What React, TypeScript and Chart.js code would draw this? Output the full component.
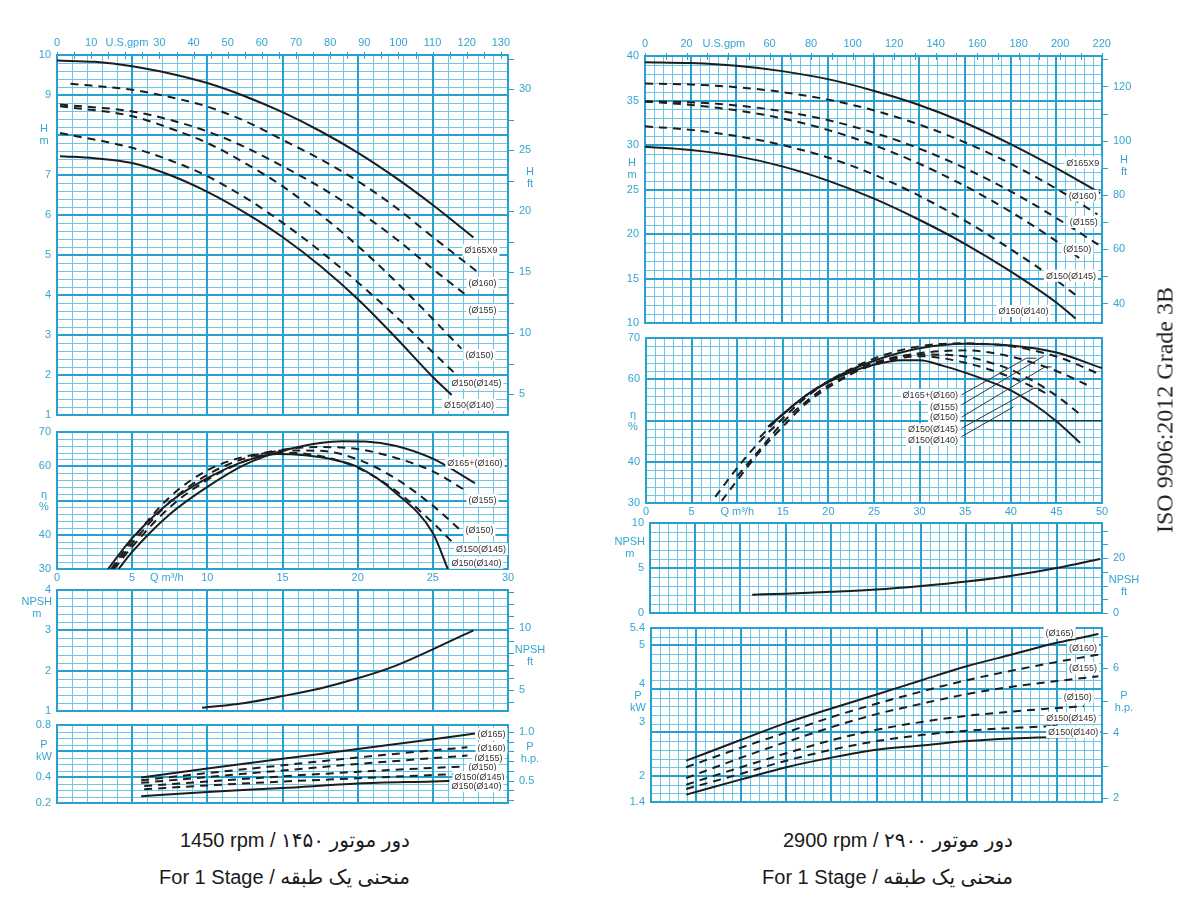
import React, { useEffect, useRef } from "react";
import { Chart, registerables } from "chart.js";
Chart.register(...registerables);

// ---------- unit conversions ----------
const GPM_PER_M3H = 4.4029;
const FT_TO_M = 0.3048;
const HP_TO_KW = 0.7457;

// ================= LEFT : 1450 rpm =================
// Head H (m) vs Q (m3/h)
const L_H_Q165 = [0, 2.5, 5, 7.5, 10, 12.5, 15, 17.5, 20, 22.5, 25, 27.7];
const L_H_165 = [9.86, 9.83, 9.72, 9.54, 9.3, 8.97, 8.57, 8.1, 7.56, 6.94, 6.25, 5.44];
const L_H_Q160 = [0.9, 5, 7.5, 10, 12.5, 15, 17.5, 20, 22.5, 25, 27.9];
const L_H_160 = [9.28, 9.13, 8.95, 8.71, 8.35, 7.88, 7.4, 6.85, 6.2, 5.45, 4.6];
const L_H_Q155 = [0.2, 5, 7.5, 10, 12.5, 15, 17.5, 20, 22.5, 25, 27.1];
const L_H_155 = [8.76, 8.59, 8.38, 8.09, 7.7, 7.22, 6.7, 6.1, 5.42, 4.65, 4.03];
const L_H_Q150 = [0.2, 5, 7.5, 10, 12.5, 15, 17.5, 20, 22.5, 25, 26.9];
const L_H_150 = [8.72, 8.47, 8.17, 7.8, 7.3, 6.72, 6.02, 5.23, 4.35, 3.4, 2.66];
const L_H_Q145 = [0.2, 5, 7.5, 10, 12.5, 15, 17.5, 20, 22.5, 25, 26.5];
const L_H_145 = [8.05, 7.68, 7.37, 6.97, 6.44, 5.81, 5.1, 4.32, 3.48, 2.57, 2.03];
const L_H_Q140 = [0.2, 2.5, 5, 7.5, 10, 12.5, 15, 17.5, 20, 22.5, 25, 26.25];
const L_H_140 = [7.47, 7.42, 7.3, 7.0, 6.58, 6.06, 5.45, 4.73, 3.9, 2.95, 1.95, 1.5];

// Efficiency (%)
const L_E_Q165 = [4.1, 5, 7.5, 10, 12.5, 15, 17.5, 19, 20.5, 22.5, 25, 27.8];
const L_E_165 = [30, 35, 46, 54, 60.5, 64.5, 66.8, 67.3, 67.2, 66, 62.2, 55.1];
const L_E_Q155 = [3.8, 5, 7.5, 10, 12.5, 15, 17.5, 20, 22.5, 25, 27.3];
const L_E_155 = [30, 36.5, 48, 56, 61.5, 64.8, 65.6, 65, 62.5, 58.5, 52.6];
const L_E_Q150 = [3.7, 5, 7.5, 10, 12.5, 15, 17.5, 20, 22.5, 25, 26.8];
const L_E_150 = [30, 37.5, 49.5, 57.5, 62.3, 64.6, 64.5, 62, 56.5, 48.5, 41.5];
const L_E_Q145 = [3.6, 5, 7.5, 10, 12.5, 15, 17.5, 20, 22.5, 25, 26.6];
const L_E_145 = [30, 38.5, 51, 58.8, 62.8, 64, 63, 59.5, 53, 43.5, 36.5];
const L_E_Q140 = [3.4, 5, 7.5, 10, 12.5, 14.6, 16.5, 18.5, 20, 22.6, 25, 26];
const L_E_140 = [30, 39, 49.5, 56.5, 61.5, 63.6, 63.2, 61.8, 59.8, 52, 40.5, 30];

// NPSH (m)
const L_N_Q = [9.65, 12.5, 15, 17.5, 20, 22.5, 25, 27.7];
const L_N = [1.08, 1.2, 1.37, 1.56, 1.81, 2.12, 2.53, 3.0];

// Power (kW)
const L_P_Q165 = [5.6, 10, 15, 20, 25, 27.8];
const L_P_165 = [0.397, 0.465, 0.54, 0.615, 0.69, 0.735];
const L_P_Q160 = [5.6, 10, 15, 20, 25, 27.3];
const L_P_160 = [0.375, 0.43, 0.49, 0.55, 0.605, 0.628];
const L_P_Q155 = [5.6, 10, 15, 20, 25, 27.3];
const L_P_155 = [0.355, 0.4, 0.45, 0.5, 0.545, 0.565];
const L_P_Q150 = [5.8, 10, 15, 20, 25, 26.9];
const L_P_150 = [0.33, 0.365, 0.405, 0.44, 0.47, 0.48];
const L_P_Q145 = [5.8, 10, 15, 20, 25, 26.6];
const L_P_145 = [0.305, 0.335, 0.365, 0.39, 0.415, 0.422];
const L_P_Q140 = [5.6, 10, 15, 20, 25, 26.4];
const L_P_140 = [0.252, 0.285, 0.315, 0.35, 0.366, 0.371];

// ================= RIGHT : 2900 rpm =================
const R_H_Q165 = [0, 5, 10, 15, 20, 25, 30, 35, 40, 45, 49.8];
const R_H_165 = [39.3, 39.2, 38.9, 38.3, 37.4, 36.1, 34.5, 32.5, 30.1, 27.4, 24.6];
const R_H_Q160 = [0, 5, 10, 15, 20, 25, 30, 35, 40, 45, 49.5];
const R_H_160 = [36.9, 36.8, 36.5, 35.95, 35.1, 33.9, 32.3, 30.3, 27.9, 25.1, 22.2];
const R_H_Q155 = [0, 5, 10, 15, 20, 25, 30, 35, 40, 45, 49.6];
const R_H_155 = [34.9, 34.8, 34.45, 33.8, 32.8, 31.4, 29.6, 27.4, 24.8, 21.8, 18.8];
const R_H_Q150 = [0, 5, 10, 15, 20, 25, 30, 35, 40, 45, 47.5];
const R_H_150 = [34.9, 34.5, 33.9, 33.0, 31.7, 30.0, 27.9, 25.4, 22.5, 19.2, 17.3];
const R_H_Q145 = [0, 5, 10, 15, 20, 25, 30, 35, 40, 45, 47.3];
const R_H_145 = [32.1, 31.7, 31.0, 30.0, 28.6, 26.7, 24.3, 21.5, 18.3, 14.8, 13.0];
const R_H_Q140 = [0, 5, 10, 15, 20, 25, 30, 35, 40, 45, 47.1];
const R_H_140 = [29.8, 29.45, 28.75, 27.6, 26.0, 24.0, 21.6, 18.9, 15.8, 12.3, 10.5];

const R_E_Q165 = [13.4, 15, 17.5, 20, 22.5, 25, 30, 35, 40, 45, 50];
const R_E_165 = [48.5, 51.5, 56, 59.5, 62.3, 64.5, 67.5, 68.6, 68.2, 66.5, 62.7];
const R_E_Q160 = [7.6, 10, 12.5, 15, 17.5, 20, 25, 30, 35, 40, 45, 50];
const R_E_160 = [31.5, 38.5, 45, 50.5, 55.5, 59.5, 65, 68, 68.7, 68, 65.5, 61];
const R_E_Q155 = [8.3, 10, 12.5, 15, 17.5, 20, 25, 30, 35, 40, 45, 48.5];
const R_E_155 = [30.5, 35.5, 42.5, 48.5, 54, 58, 63.8, 66.3, 67, 65.5, 62, 58.5];
const R_E_Q150 = [12.5, 15, 17.5, 20, 25, 30, 35, 37.5, 40, 42.5, 45, 47.6];
const R_E_150 = [46, 51.5, 56, 59.5, 64, 66, 65.5, 64.2, 62.3, 59.5, 56, 51.5];
const R_E_Q145 = [10, 12.5, 15, 17.5, 20, 25, 30, 35, 40, 44];
const R_E_145 = [36.5, 43, 49.5, 54.5, 58.5, 63.5, 65.6, 64, 60.5, 56.5];
const R_E_Q140 = [13.4, 15, 17.5, 20, 22.5, 25, 28, 30, 32.5, 35, 37.5, 40, 42.5, 45, 47.6];
const R_E_140 = [48.5, 51.5, 56, 59.3, 61.8, 63.5, 64.6, 64.6, 63.3, 61.6, 59.6, 57.3, 54, 49.8, 44.6];

const R_N_Q = [11.3, 15, 20, 25, 30, 35, 40, 45, 49.8];
const R_N = [2.04, 2.15, 2.35, 2.6, 3.0, 3.5, 4.15, 5.0, 6.0];

const R_P_Q = [3.9, 10, 15, 20, 25, 30, 35, 40, 45];
const R_P_165 = [2.35, 2.83, 3.22, 3.55, 3.87, 4.2, 4.52, 4.79, 5.06, 5.26];
const R_P_160 = [2.2, 2.65, 3.0, 3.35, 3.66, 3.94, 4.2, 4.42, 4.62, 4.79];
const R_P_155 = [1.95, 2.42, 2.78, 3.12, 3.42, 3.66, 3.88, 4.05, 4.18, 4.29];
const R_P_150 = [1.8, 2.2, 2.52, 2.82, 3.06, 3.24, 3.38, 3.48, 3.56, 3.6];
const R_P_145 = [1.7, 2.05, 2.35, 2.6, 2.8, 2.94, 3.04, 3.1, 3.14, 3.15];
const R_P_140 = [1.57, 1.92, 2.2, 2.42, 2.6, 2.7, 2.8, 2.86, 2.89, 2.89];
const R_P_END = [49.6, 49.6, 49.6, 48, 44.5, 46.9];

// tick labels
const L_GPM_LABELS = [0, 10, 30, 40, 50, 60, 70, 80, 90, 100, 110, 120, 130];
const R_GPM_LABELS = [0, 20, 60, 80, 100, 120, 140, 160, 180, 200, 220];
const L_Q_LABELS = [0, 5, 10, 15, 20, 25, 30];
const R_Q_LABELS = [0, 5, 15, 20, 25, 30, 35, 40, 45, 50];

// ---------- styles ----------
const GRID_MINOR = "#70c6e7";
const GRID_MAJOR = "#27a1d2";
const TICK_COLOR = "#35a4d0";
const CURVE_COLOR = "#1d1d1d";
const FONT_TICK = '11px "Liberation Sans", Arial, sans-serif';
const FONT_CURVE = '9px "Liberation Sans", Arial, sans-serif';
const PAD = { left: 60, right: 60, top: 22, bottom: 18 };

type Curve = { q: number[]; v: number[]; dashed?: boolean };
type Lbl = { v: number; t: string[] };
type CLbl = { q: number; v: number; t: string; align?: "left" | "center" | "right" };
type Sec = { factor: number; from: number; to: number; step: number; labels: number[]; fmt?: (n: number) => string; title: string[]; titleAt: number };
type Top = { factor: number; to: number; step: number; labels: number[]; title: string; titleAt: number };
type Spec = {
  left: number; top: number; right: number; bottom: number;
  xMin: number; xMax: number; yMin: number; yMax: number;
  xMinor: number; xMajor: number; yMinor: number; yMajor: number;
  curves: Curve[];
  leftLabels: Lbl[];
  bottomLabels?: Lbl[];
  sec?: Sec;
  topAxis?: Top;
  curveLabels: CLbl[];
  leaders?: number[][][];
};

const lbl = (v: number, ...t: string[]): Lbl => ({ v, t });
const cv = (q: number[], v: number[], dashed = false): Curve => ({ q, v, dashed });
const steps = (min: number, max: number, step: number) => {
  const out: number[] = [];
  const start = Math.ceil(min / step - 1e-9);
  for (let i = start; i * step <= max + 1e-9; i++) out.push(Math.round(i * step * 1e6) / 1e6);
  return out;
};

const makeDecor = (s: Spec) => ({
  id: "decor",
  beforeDatasetsDraw(chart: any) {
    const { ctx, chartArea: a } = chart;
    const xs = chart.scales.x, ys = chart.scales.y;
    ctx.save();
    ctx.fillStyle = "#fff";
    ctx.fillRect(a.left, a.top, a.right - a.left, a.bottom - a.top);
    const vline = (v: number, c: string, w: number) => {
      const p = Math.round(xs.getPixelForValue(v)) + (w === 1 ? 0.5 : 0);
      ctx.strokeStyle = c; ctx.lineWidth = w;
      ctx.beginPath(); ctx.moveTo(p, a.top); ctx.lineTo(p, a.bottom); ctx.stroke();
    };
    const hline = (v: number, c: string, w: number) => {
      const p = Math.round(ys.getPixelForValue(v)) + (w === 1 ? 0.5 : 0);
      ctx.strokeStyle = c; ctx.lineWidth = w;
      ctx.beginPath(); ctx.moveTo(a.left, p); ctx.lineTo(a.right, p); ctx.stroke();
    };
    steps(s.xMin, s.xMax, s.xMinor).forEach((v) => vline(v, GRID_MINOR, 1));
    steps(s.yMin, s.yMax, s.yMinor).forEach((v) => hline(v, GRID_MINOR, 1));
    steps(s.xMin, s.xMax, s.xMajor).forEach((v) => vline(v, GRID_MAJOR, 2));
    steps(s.yMin, s.yMax, s.yMajor).forEach((v) => hline(v, GRID_MAJOR, 2));
    ctx.strokeStyle = GRID_MAJOR; ctx.lineWidth = 2;
    ctx.strokeRect(a.left, a.top, a.right - a.left, a.bottom - a.top);
    ctx.restore();
  },
  afterDatasetsDraw(chart: any) {
    const { ctx } = chart;
    const xs = chart.scales.x, ys = chart.scales.y;
    ctx.save();
    (s.leaders || []).forEach((pts) => {
      ctx.strokeStyle = "#333"; ctx.lineWidth = 1;
      ctx.beginPath();
      pts.forEach(([q, v], i) => {
        const x = xs.getPixelForValue(q), y = ys.getPixelForValue(v);
        if (i === 0) ctx.moveTo(x, y); else ctx.lineTo(x, y);
      });
      ctx.stroke();
    });
    ctx.font = FONT_CURVE; ctx.textBaseline = "middle"; ctx.textAlign = "left";
    s.curveLabels.forEach((c) => {
      const x = xs.getPixelForValue(c.q), y = ys.getPixelForValue(c.v);
      const w = ctx.measureText(c.t).width;
      const al = c.align || "center";
      const x0 = al === "center" ? x - w / 2 : al === "right" ? x - w : x;
      ctx.fillStyle = "#fff"; ctx.fillRect(x0 - 2, y - 6, w + 4, 12);
      ctx.fillStyle = "#333"; ctx.fillText(c.t, x0, y + 0.5);
    });
    ctx.restore();
  },
  afterDraw(chart: any) {
    const { ctx, chartArea: a } = chart;
    const xs = chart.scales.x, ys = chart.scales.y;
    ctx.save();
    ctx.font = FONT_TICK; ctx.fillStyle = TICK_COLOR; ctx.textBaseline = "middle";
    const multi = (lines: string[], x: number, y: number) =>
      lines.forEach((t, k) => ctx.fillText(t, x, y + (k - (lines.length - 1) / 2) * 12));
    s.leftLabels.forEach((l) => {
      const y = ys.getPixelForValue(l.v);
      if (l.t.length > 1) {
        const mw = Math.max(...l.t.map((t) => ctx.measureText(t).width));
        ctx.textAlign = "center";
        multi(l.t, Math.min(a.left - 13, a.left - 5 - mw / 2), y);
      } else { ctx.textAlign = "right"; multi(l.t, a.left - 6, y); }
    });
    (s.bottomLabels || []).forEach((l) => {
      ctx.textAlign = "center";
      ctx.fillText(l.t[0], xs.getPixelForValue(l.v), a.bottom + 9);
    });
    if (s.sec) {
      const sc = s.sec;
      ctx.strokeStyle = GRID_MAJOR; ctx.lineWidth = 1;
      steps(sc.from, sc.to, sc.step).forEach((v) => {
        const y = Math.round(ys.getPixelForValue(v * sc.factor)) + 0.5;
        ctx.beginPath(); ctx.moveTo(a.right, y); ctx.lineTo(a.right + 6, y); ctx.stroke();
      });
      ctx.textAlign = "left";
      sc.labels.forEach((v) => {
        const t = sc.fmt ? sc.fmt(v) : String(v);
        ctx.fillText(t, a.right + 11, ys.getPixelForValue(v * sc.factor));
      });
      ctx.textAlign = "center";
      multi(sc.title, a.right + 22, ys.getPixelForValue(sc.titleAt));
    }
    if (s.topAxis) {
      const tp = s.topAxis;
      ctx.strokeStyle = GRID_MAJOR; ctx.lineWidth = 1;
      steps(0, tp.to, tp.step).forEach((g) => {
        const x = Math.round(xs.getPixelForValue(g / tp.factor)) + 0.5;
        ctx.beginPath(); ctx.moveTo(x, a.top - 3); ctx.lineTo(x, a.top + 4); ctx.stroke();
      });
      ctx.textAlign = "center";
      tp.labels.forEach((g) => ctx.fillText(String(g), xs.getPixelForValue(g / tp.factor), a.top - 12));
      ctx.fillText(tp.title, xs.getPixelForValue(tp.titleAt / tp.factor), a.top - 12);
    }
    ctx.restore();
  },
});

function Panel({ spec }: { spec: Spec }) {
  const ref = useRef<HTMLCanvasElement>(null);
  const w = spec.right - spec.left + PAD.left + PAD.right;
  const h = spec.bottom - spec.top + PAD.top + PAD.bottom;
  useEffect(() => {
    const chart = new Chart(ref.current as HTMLCanvasElement, {
      type: "line",
      data: {
        datasets: spec.curves.map((c) => ({
          data: c.q.map((q, i) => ({ x: q, y: c.v[i] })),
          borderColor: CURVE_COLOR,
          borderWidth: 2,
          borderDash: c.dashed ? [8, 6] : [],
          pointRadius: 0,
          tension: 0.4,
          cubicInterpolationMode: "monotone",
          fill: false,
        })),
      },
      options: {
        animation: false,
        responsive: false,
        devicePixelRatio: 1,
        events: [],
        layout: { padding: PAD },
        scales: {
          x: { type: "linear", min: spec.xMin, max: spec.xMax, display: false },
          y: { type: "linear", min: spec.yMin, max: spec.yMax, display: false },
        },
        plugins: { legend: { display: false }, tooltip: { enabled: false } },
      } as any,
      plugins: [makeDecor(spec)],
    });
    return () => chart.destroy();
  }, [spec]);
  return (
    <canvas
      ref={ref}
      width={w}
      height={h}
      style={{ position: "absolute", left: spec.left - PAD.left, top: spec.top - PAD.top, width: w, height: h }}
    />
  );
}

const zipEnd = (v: number[], end: number) => [...R_P_Q, end].slice(0, v.length);

const hpFmt = (n: number) => (n === 1 ? "1.0" : String(n));

const SPECS: Spec[] = [
  // ---- left head ----
  {
    left: 57, top: 55, right: 508, bottom: 415,
    xMin: 0, xMax: 30, yMin: 1, yMax: 10, xMinor: 1, xMajor: 5, yMinor: 0.2, yMajor: 1,
    curves: [
      cv(L_H_Q165, L_H_165), cv(L_H_Q160, L_H_160, true), cv(L_H_Q155, L_H_155, true),
      cv(L_H_Q150, L_H_150, true), cv(L_H_Q145, L_H_145, true), cv(L_H_Q140, L_H_140),
    ],
    leftLabels: [lbl(10, "10"), lbl(9, "9"), lbl(8, "H", "m"), lbl(7, "7"), lbl(6, "6"), lbl(5, "5"), lbl(4, "4"), lbl(3, "3"), lbl(2, "2"), lbl(1, "1")],
    sec: { factor: FT_TO_M, from: 5, to: 32.5, step: 2.5, labels: [5, 10, 15, 20, 25, 30], title: ["H", "ft"], titleAt: 6.93 },
    topAxis: { factor: GPM_PER_M3H, to: 130, step: 5, labels: L_GPM_LABELS, title: "U.S.gpm", titleAt: 20.5 },
    curveLabels: [
      { q: 28.2, v: 5.12, t: "Ø165X9" }, { q: 28.3, v: 4.3, t: "(Ø160)" }, { q: 28.3, v: 3.62, t: "(Ø155)" },
      { q: 28.1, v: 2.5, t: "(Ø150)" }, { q: 27.9, v: 1.8, t: "Ø150(Ø145)" }, { q: 27.4, v: 1.25, t: "Ø150(Ø140)" },
    ],
  },
  // ---- left efficiency ----
  {
    left: 57, top: 432, right: 508, bottom: 569,
    xMin: 0, xMax: 30, yMin: 30, yMax: 70, xMinor: 1, xMajor: 5, yMinor: 2, yMajor: 10,
    curves: [
      cv(L_E_Q165, L_E_165), cv(L_E_Q155, L_E_155, true), cv(L_E_Q150, L_E_150, true),
      cv(L_E_Q145, L_E_145, true), cv(L_E_Q140, L_E_140),
    ],
    leftLabels: [lbl(70, "70"), lbl(60, "60"), lbl(50, "η", "%"), lbl(40, "40"), lbl(30, "30")],
    bottomLabels: [...L_Q_LABELS.map((v) => lbl(v, String(v))), lbl(7.3, "Q m³/h")],
    curveLabels: [
      { q: 27.8, v: 61, t: "Ø165+(Ø160)" }, { q: 28.3, v: 50.1, t: "(Ø155)" }, { q: 28.1, v: 41.4, t: "(Ø150)" },
      { q: 28.2, v: 35.8, t: "Ø150(Ø145)" }, { q: 27.9, v: 31.8, t: "Ø150(Ø140)" },
    ],
  },
  // ---- left NPSH ----
  {
    left: 57, top: 590, right: 508, bottom: 711,
    xMin: 0, xMax: 30, yMin: 1, yMax: 4, xMinor: 1, xMajor: 5, yMinor: 0.2, yMajor: 1,
    curves: [cv(L_N_Q, L_N)],
    leftLabels: [lbl(4, "4"), lbl(3.55, "NPSH", "m"), lbl(3, "3"), lbl(2, "2"), lbl(1, "1")],
    sec: { factor: FT_TO_M, from: 4, to: 13, step: 1, labels: [5, 10], title: ["NPSH", "ft"], titleAt: 2.36 },
    curveLabels: [],
  },
  // ---- left power ----
  {
    left: 57, top: 725, right: 508, bottom: 803,
    xMin: 0, xMax: 30, yMin: 0.2, yMax: 0.8, xMinor: 1, xMajor: 5, yMinor: 0.05, yMajor: 0.2,
    curves: [
      cv(L_P_Q165, L_P_165), cv(L_P_Q160, L_P_160, true), cv(L_P_Q155, L_P_155, true),
      cv(L_P_Q150, L_P_150, true), cv(L_P_Q145, L_P_145, true), cv(L_P_Q140, L_P_140),
    ],
    leftLabels: [lbl(0.8, "0.8"), lbl(0.6, "P", "kW"), lbl(0.4, "0.4"), lbl(0.2, "0.2")],
    sec: { factor: HP_TO_KW, from: 0.3, to: 1.0, step: 0.1, labels: [0.5, 1], fmt: hpFmt, title: ["P", "h.p."], titleAt: 0.585 },
    curveLabels: [
      { q: 28.9, v: 0.731, t: "(Ø165)" }, { q: 28.9, v: 0.623, t: "(Ø160)" }, { q: 28.7, v: 0.546, t: "(Ø155)" },
      { q: 28.3, v: 0.477, t: "(Ø150)" }, { q: 28.1, v: 0.4, t: "Ø150(Ø145)" }, { q: 27.9, v: 0.331, t: "Ø150(Ø140)" },
    ],
  },
  // ---- right head ----
  {
    left: 645, top: 56, right: 1102, bottom: 323,
    xMin: 0, xMax: 50, yMin: 10, yMax: 40, xMinor: 1, xMajor: 5, yMinor: 1, yMajor: 5,
    curves: [
      cv(R_H_Q165, R_H_165), cv(R_H_Q160, R_H_160, true), cv(R_H_Q155, R_H_155, true),
      cv(R_H_Q150, R_H_150, true), cv(R_H_Q145, R_H_145, true), cv(R_H_Q140, R_H_140),
    ],
    leftLabels: [lbl(40, "40"), lbl(35, "35"), lbl(30, "30"), lbl(27.3, "H", "m"), lbl(25, "25"), lbl(20, "20"), lbl(15, "15"), lbl(10, "10")],
    sec: { factor: FT_TO_M, from: 40, to: 130, step: 10, labels: [40, 60, 80, 100, 120], title: ["H", "ft"], titleAt: 27.6 },
    topAxis: { factor: GPM_PER_M3H, to: 220, step: 10, labels: R_GPM_LABELS, title: "U.S.gpm", titleAt: 38 },
    curveLabels: [
      { q: 47.9, v: 28.0, t: "Ø165X9" }, { q: 47.9, v: 24.3, t: "(Ø160)" }, { q: 48.0, v: 21.35, t: "(Ø155)" },
      { q: 47.3, v: 18.3, t: "(Ø150)" }, { q: 46.6, v: 15.3, t: "Ø150(Ø145)" }, { q: 41.4, v: 11.35, t: "Ø150(Ø140)" },
    ],
  },
  // ---- right efficiency ----
  {
    left: 646, top: 338, right: 1102, bottom: 503,
    xMin: 0, xMax: 50, yMin: 30, yMax: 70, xMinor: 1, xMajor: 5, yMinor: 2, yMajor: 10,
    curves: [
      cv(R_E_Q165, R_E_165), cv(R_E_Q160, R_E_160, true), cv(R_E_Q155, R_E_155, true),
      cv(R_E_Q150, R_E_150, true), cv(R_E_Q145, R_E_145, true), cv(R_E_Q140, R_E_140),
    ],
    leftLabels: [lbl(70, "70"), lbl(60, "60"), lbl(50, "η", "%"), lbl(40, "40"), lbl(30, "30")],
    bottomLabels: [...R_Q_LABELS.map((v) => lbl(v, String(v))), lbl(10, "Q m³/h")],
    leaders: [
      [[34.6, 56.2], [41.7, 65.1], [42.8, 65.1]],
      [[34.6, 53.8], [43.6, 65.6]],
      [[34.6, 50.8], [43.75, 63.0], [44.5, 63.0]],
      [[34.6, 48.1], [42.5, 57.8], [43.0, 57.8], [43.6, 57.0]],
      [[34.6, 46.1], [40.3, 53.3]],
      [[34.6, 50], [50, 50]],
    ],
    curveLabels: [
      { q: 34.2, v: 56.2, t: "Ø165+(Ø160)", align: "right" }, { q: 34.2, v: 53.3, t: "(Ø155)", align: "right" },
      { q: 34.2, v: 50.8, t: "(Ø150)", align: "right" }, { q: 34.2, v: 47.9, t: "Ø150(Ø145)", align: "right" },
      { q: 34.2, v: 45.3, t: "Ø150(Ø140)", align: "right" },
    ],
  },
  // ---- right NPSH ----
  {
    left: 650, top: 523, right: 1102, bottom: 613,
    xMin: 0, xMax: 50, yMin: 0, yMax: 10, xMinor: 1, xMajor: 5, yMinor: 1, yMajor: 5,
    curves: [cv(R_N_Q, R_N)],
    leftLabels: [lbl(10, "10"), lbl(7.2, "NPSH", "m"), lbl(5, "5"), lbl(0, "0")],
    sec: { factor: FT_TO_M, from: 0, to: 30, step: 5, labels: [0, 20], title: ["NPSH", "ft"], titleAt: 3.0 },
    curveLabels: [],
  },
  // ---- right power ----
  {
    left: 651, top: 628, right: 1102, bottom: 802,
    xMin: 0, xMax: 50, yMin: 1.4, yMax: 5.4, xMinor: 1, xMajor: 5, yMinor: 0.2, yMajor: 1,
    curves: [
      cv(zipEnd(R_P_165, R_P_END[0]), R_P_165), cv(zipEnd(R_P_160, R_P_END[1]), R_P_160, true),
      cv(zipEnd(R_P_155, R_P_END[2]), R_P_155, true), cv(zipEnd(R_P_150, R_P_END[3]), R_P_150, true),
      cv(zipEnd(R_P_145, R_P_END[4]), R_P_145, true), cv(zipEnd(R_P_140, R_P_END[5]), R_P_140),
    ],
    leftLabels: [lbl(5.4, "5.4"), lbl(5, "5"), lbl(4.12, "4"), lbl(3.7, "P", "kW"), lbl(3.25, "3"), lbl(2, "2"), lbl(1.4, "1.4")],
    sec: { factor: HP_TO_KW, from: 2, to: 7, step: 1, labels: [2, 4, 6], title: ["P", "h.p."], titleAt: 3.7 },
    curveLabels: [
      { q: 45.3, v: 5.29, t: "(Ø165)" }, { q: 47.9, v: 4.94, t: "(Ø160)" }, { q: 47.9, v: 4.48, t: "(Ø155)" },
      { q: 47.3, v: 3.81, t: "(Ø150)" }, { q: 46.6, v: 3.33, t: "Ø150(Ø145)" }, { q: 46.8, v: 3.01, t: "Ø150(Ø140)" },
    ],
  },
];

const TEXT_FONT = '20px "Liberation Sans", Arial, "DejaVu Sans", sans-serif';

export default function App() {
  const line = (fa: string, en: string, right: number, top: number) => (
    <div
      dir="rtl"
      style={{ position: "absolute", right, top, font: TEXT_FONT, color: "#1a1a1a", whiteSpace: "nowrap", lineHeight: "24px" }}
    >
      {fa} / <span dir="ltr" style={{ unicodeBidi: "isolate" }}>{en}</span>
    </div>
  );
  return (
    <div style={{ position: "absolute", left: 0, top: 0, width: 1200, height: 900, background: "#fff", overflow: "hidden" }}>
      {SPECS.map((s, i) => (
        <Panel key={i} spec={s} />
      ))}
      {line("دور موتور ۱۴۵۰", "1450 rpm", 1200 - 410, 828)}
      {line("منحنی یک طبقه", "For 1 Stage", 1200 - 410, 865)}
      {line("دور موتور ۲۹۰۰", "2900 rpm", 1200 - 1013, 828)}
      {line("منحنی یک طبقه", "For 1 Stage", 1200 - 1013, 865)}
      <div
        style={{
          position: "absolute", left: 1165, top: 410, transform: "translate(-50%, -50%) rotate(-90deg)",
          font: '24px "Liberation Serif", "Times New Roman", serif', color: "#222", whiteSpace: "nowrap",
        }}
      >
        ISO 9906:2012 Grade 3B
      </div>
    </div>
  );
}
